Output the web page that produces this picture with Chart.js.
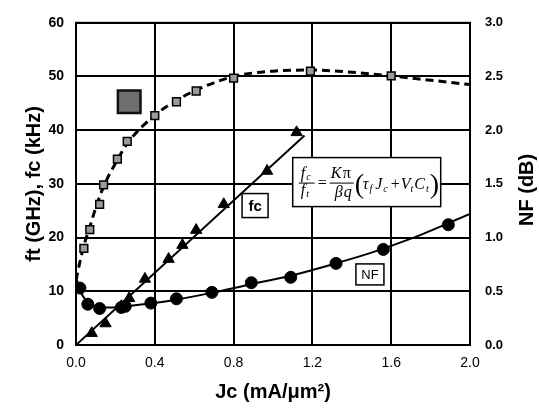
<!DOCTYPE html>
<html>
<head>
<meta charset="utf-8">
<script src="https://cdn.jsdelivr.net/npm/chart.js@4.4.1/dist/chart.umd.min.js"></script>
<style>
  html, body { margin: 0; padding: 0; background: #fff; }
  canvas { display: block; }
</style>
</head>
<body>
<canvas id="grafico" width="539" height="412"></canvas>
<script>
// ft (GHz) - quadrados, linha tracejada
const jcFt = [0.04, 0.07, 0.12, 0.14, 0.21, 0.26, 0.40, 0.51, 0.61, 0.80, 1.19, 1.60];
const ftVals = [18.0, 21.5, 26.2, 29.8, 34.6, 37.9, 42.7, 45.3, 47.3, 49.7, 51.0, 50.1];
const jcFtFit = [0, 0.02, 0.04, 0.07, 0.10, 0.14, 0.20, 0.26, 0.40, 0.50, 0.60, 0.80, 1.00, 1.20, 1.40, 1.60, 1.80, 2.00];
const ftFit = [12.0, 15.5, 18.5, 22.0, 25.5, 29.5, 33.8, 37.5, 42.8, 45.3, 47.3, 50.0, 51.0, 51.2, 50.8, 50.1, 49.3, 48.5];

// fc (kHz) - triangulos
const jcFc = [0.08, 0.15, 0.23, 0.27, 0.35, 0.47, 0.54, 0.61, 0.75, 0.97, 1.12];
const fcVals = [2.2, 4.0, 7.2, 8.7, 12.3, 16.0, 18.6, 21.4, 26.2, 32.4, 39.6];
const jcFcFit = [0, 1.16];
const fcFit = [0, 39.0];

// NF (dB) - circulos, eixo direito
const jcNf = [0.02, 0.06, 0.12, 0.23, 0.25, 0.38, 0.51, 0.69, 0.89, 1.09, 1.32, 1.56, 1.89];
const nfVals = [0.53, 0.38, 0.34, 0.35, 0.36, 0.39, 0.43, 0.49, 0.58, 0.63, 0.76, 0.89, 1.12];
const jcNfFit = [0, 0.03, 0.07, 0.12, 0.20, 0.30, 0.50, 0.70, 0.90, 1.10, 1.30, 1.50, 1.70, 2.00];
const nfFit = [0.63, 0.47, 0.38, 0.35, 0.35, 0.37, 0.42, 0.49, 0.57, 0.65, 0.75, 0.86, 0.99, 1.22];

// marcador grande cinza
const jcBig = [0.27];
const bigVals = [45.3];

const xTicks = [0, 0.4, 0.8, 1.2, 1.6, 2.0];

const pontos = (xs, ys) => xs.map((x, i) => ({ x: x, y: ys[i] }));

const fonte = 'Liberation Sans, Arial, sans-serif';
const serif = 'Liberation Serif, Times New Roman, serif';

// moldura, caixas de texto, formula e titulo do eixo direito
const anotacoes = {
    id: 'anotacoes',
    afterDraw(chart) {
        const { ctx, chartArea: a, scales: { x, y } } = chart;
        ctx.save();
        ctx.strokeStyle = '#000';
        ctx.lineWidth = 2;
        ctx.strokeRect(a.left, a.top, a.right - a.left, a.bottom - a.top);

        const caixa = (x0, y0, w, h, texto, tam, peso) => {
            ctx.fillStyle = '#fff';
            ctx.fillRect(x0, y0, w, h);
            ctx.lineWidth = 1.5;
            ctx.strokeStyle = '#000';
            ctx.strokeRect(x0, y0, w, h);
            if (texto) {
                ctx.fillStyle = '#000';
                ctx.font = peso + ' ' + tam + 'px ' + fonte;
                ctx.textAlign = 'center';
                ctx.textBaseline = 'middle';
                ctx.fillText(texto, x0 + w / 2, y0 + h / 2 + 1);
            }
        };

        // caixa "fc"
        caixa(x.getPixelForValue(0.843), y.getPixelForValue(28.2), 26, 24, 'fc', 15, 'bold');
        // caixa "NF"
        caixa(x.getPixelForValue(1.421), y.getPixelForValue(15.1), 28, 21, 'NF', 13, 'normal');

        // formula
        const fx = x.getPixelForValue(1.10), fy = y.getPixelForValue(34.9);
        caixa(fx, fy, 148, 49, '', 0, '');
        ctx.fillStyle = '#000';
        ctx.strokeStyle = '#000';
        ctx.lineWidth = 1;
        ctx.textBaseline = 'alphabetic';
        ctx.textAlign = 'left';
        const mid = fy + 25;

        const texto = (t, px, py, tam, estilo) => {
            ctx.font = estilo + ' ' + tam + 'px ' + serif;
            ctx.fillText(t, px, py);
            return px + ctx.measureText(t).width;
        };

        // f_c / f_t
        let cx = fx + 8;
        let e = texto('f', cx, mid - 5, 16, 'italic');
        texto('c', e + 1, mid - 3, 10, 'italic');
        e = texto('f', cx, mid + 12, 16, 'italic');
        texto('t', e + 1, mid + 14, 10, 'italic');
        ctx.beginPath();
        ctx.moveTo(cx - 2, mid + 0.5);
        ctx.lineTo(cx + 14, mid + 0.5);
        ctx.stroke();

        // =
        texto('=', fx + 25, mid + 5, 16, 'normal');

        // K pi / beta q
        cx = fx + 37;
        texto('K', cx + 1, mid - 5, 16, 'italic');
        texto('\u03c0', cx + 13, mid - 5, 16, 'normal');
        texto('\u03b2', cx + 5, mid + 14, 16, 'italic');
        texto('q', cx + 14, mid + 14, 16, 'italic');
        ctx.beginPath();
        ctx.moveTo(cx, mid + 0.5);
        ctx.lineTo(cx + 24, mid + 0.5);
        ctx.stroke();

        // ( tau_f J_c + V_t C_t )
        texto('(', fx + 62, mid + 10, 28, 'normal');
        cx = fx + 70;
        e = texto('\u03c4', cx, mid + 6, 16, 'italic');
        e = texto('f', e + 1, mid + 9, 10, 'italic');
        e = texto('J', e + 3, mid + 6, 16, 'italic');
        e = texto('c', e + 1, mid + 9, 10, 'italic');
        e = texto('+', e + 3, mid + 6, 16, 'normal');
        e = texto('V', e + 1, mid + 6, 16, 'italic');
        e = texto('t', e, mid + 9, 10, 'italic');
        e = texto('C', e + 1, mid + 6, 16, 'italic');
        e = texto('t', e + 1, mid + 9, 10, 'italic');
        texto(')', e + 1, mid + 10, 28, 'normal');

        // titulo do eixo direito, lido de baixo para cima como no original
        ctx.translate(527, (a.top + a.bottom) / 2 + 6);
        ctx.rotate(-Math.PI / 2);
        ctx.font = 'bold 20px ' + fonte;
        ctx.textAlign = 'center';
        ctx.textBaseline = 'middle';
        ctx.fillText('NF (dB)', 0, 0);

        ctx.restore();
    }
};

const grafico = new Chart(document.getElementById('grafico').getContext('2d'), {
    type: 'scatter',
    data: {
        datasets: [
            {
                // ajuste ft (tracejado)
                data: pontos(jcFtFit, ftFit),
                showLine: true,
                borderColor: '#000',
                borderWidth: 3,
                borderDash: [8, 5],
                pointRadius: 0,
                cubicInterpolationMode: 'monotone',
                yAxisID: 'y',
                order: 3
            },
            {
                data: pontos(jcFcFit, fcFit),
                showLine: true,
                borderColor: '#000',
                borderWidth: 2,
                pointRadius: 0,
                yAxisID: 'y',
                order: 3
            },
            {
                data: pontos(jcNfFit, nfFit),
                showLine: true,
                borderColor: '#000',
                borderWidth: 2,
                pointRadius: 0,
                cubicInterpolationMode: 'monotone',
                yAxisID: 'y2',
                order: 3
            },
            {
                label: 'ft',
                data: pontos(jcFt, ftVals),
                pointStyle: 'rect',
                pointRadius: 5.5,
                backgroundColor: '#9a9a9a',
                borderColor: '#000',
                borderWidth: 1.5,
                yAxisID: 'y',
                order: 1
            },
            {
                label: 'fc',
                data: pontos(jcFc, fcVals),
                pointStyle: 'triangle',
                pointRadius: 6.5,
                backgroundColor: '#000',
                borderColor: '#000',
                borderWidth: 1,
                yAxisID: 'y',
                order: 1
            },
            {
                label: 'NF',
                data: pontos(jcNf, nfVals),
                pointStyle: 'circle',
                pointRadius: 6,
                backgroundColor: '#000',
                borderColor: '#000',
                borderWidth: 1,
                yAxisID: 'y2',
                order: 1
            },
            {
                data: pontos(jcBig, bigVals),
                pointStyle: 'rect',
                pointRadius: 16,
                backgroundColor: '#6e6e6e',
                borderColor: '#111',
                borderWidth: 2.5,
                yAxisID: 'y',
                order: 1
            }
        ]
    },
    options: {
        responsive: false,
        animation: false,
        devicePixelRatio: 1,
        layout: { padding: { top: 19 } },
        plugins: {
            legend: { display: false },
            tooltip: { enabled: false }
        },
        scales: {
            x: {
                type: 'linear',
                min: 0,
                max: 2,
                afterBuildTicks: (s) => { s.ticks = xTicks.map(v => ({ value: v })); },
                ticks: {
                    padding: 10,
                    color: '#000',
                    font: { family: fonte, size: 14 },
                    callback: (v) => Number(v).toFixed(1)
                },
                grid: { color: '#000', lineWidth: 2, drawTicks: false },
                border: { color: '#000', width: 2 },
                title: {
                    display: true,
                    text: 'Jc (mA/\u03bcm\u00b2)',
                    color: '#000',
                    font: { family: fonte, size: 20, weight: 'bold' },
                    padding: { top: 0, bottom: 8 }
                },
                afterFit: (s) => { s.height = 67; }
            },
            y: {
                position: 'left',
                min: 0,
                max: 60,
                ticks: {
                    stepSize: 10,
                    padding: 12,
                    color: '#000',
                    font: { family: fonte, size: 14, weight: 'bold' }
                },
                grid: { color: '#000', lineWidth: 2, drawTicks: false },
                border: { color: '#000', width: 2 },
                title: {
                    display: true,
                    text: 'ft (GHz), fc (kHz)',
                    color: '#000',
                    font: { family: fonte, size: 20, weight: 'bold' },
                    padding: { top: 22, bottom: 0 }
                },
                afterFit: (s) => { s.width = 76; }
            },
            y2: {
                position: 'right',
                min: 0,
                max: 3,
                ticks: {
                    stepSize: 0.5,
                    padding: 15,
                    color: '#000',
                    font: { family: fonte, size: 13, weight: 'bold' },
                    callback: (v) => Number(v).toFixed(1)
                },
                grid: { display: false, drawTicks: false },
                border: { color: '#000', width: 2 },
                title: { display: false },
                afterFit: (s) => { s.width = 69; }
            }
        }
    },
    plugins: [anotacoes]
});
</script>
</body>
</html>
